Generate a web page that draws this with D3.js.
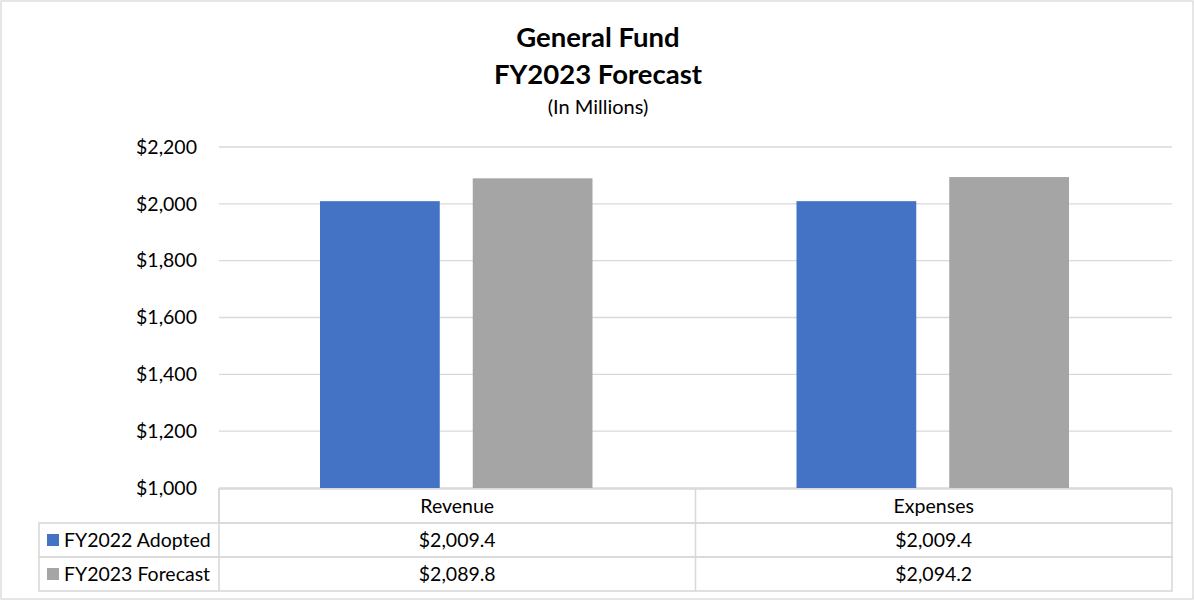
<!DOCTYPE html>
<html>
<head>
<meta charset="utf-8">
<script src="https://cdn.jsdelivr.net/npm/d3@7"></script>
<style>
  body { margin: 0; background: #fff; }
  svg { font-family: Lato, "Noto Sans", sans-serif; }
</style>
</head>
<body>
<div id="chart"></div>
<script>
var categories = ["Revenue", "Expenses"];
var seriesNames = ["FY2022 Adopted", "FY2023 Forecast"];
var adopted = [2009.4, 2009.4];
var forecast = [2089.8, 2094.2];
var yTicks = [1000, 1200, 1400, 1600, 1800, 2000, 2200];
var colors = ["#4472C4", "#A5A5A5"];

var W = 1194, H = 600;
var plot = { left: 219, right: 1172, top: 147, bottom: 488 };
var rowH = 34;
var fs = 19.5;

var svg = d3.select("#chart").append("svg")
    .attr("width", W)
    .attr("height", H);

// outer chart border
svg.append("rect")
    .attr("x", 1).attr("y", 1)
    .attr("width", W - 2).attr("height", H - 2)
    .attr("fill", "#fff")
    .attr("stroke", "#D9D9D9")
    .attr("stroke-width", 1.3);

// titles
svg.append("text").attr("x", 598).attr("y", 47)
    .attr("text-anchor", "middle").attr("font-size", 27.5).attr("font-weight", "bold")
    .text("General Fund");
svg.append("text").attr("x", 598).attr("y", 84)
    .attr("text-anchor", "middle").attr("font-size", 27.5).attr("font-weight", "bold")
    .text("FY2023 Forecast");
svg.append("text").attr("x", 598).attr("y", 114)
    .attr("text-anchor", "middle").attr("font-size", 20)
    .text("(In Millions)");

var y = d3.scaleLinear().domain([1000, 2200]).range([plot.bottom, plot.top]);
var x0 = d3.scaleBand().domain(categories).range([plot.left, plot.right]).paddingInner(0).paddingOuter(0);
var x1 = d3.scaleBand().domain(seriesNames).range([101, x0.bandwidth() - 103]).paddingInner(0.216);

// gridlines
svg.append("g")
    .selectAll("line")
    .data(yTicks)
    .enter().append("line")
    .attr("x1", plot.left).attr("x2", plot.right)
    .attr("y1", function (d) { return y(d); })
    .attr("y2", function (d) { return y(d); })
    .attr("stroke", "#D9D9D9")
    .attr("stroke-width", 1.3);

// y axis labels
var yAxis = svg.append("g")
    .attr("transform", "translate(" + plot.left + ",0)")
    .call(d3.axisLeft(y).tickValues(yTicks).tickSize(0).tickPadding(22)
        .tickFormat(function (d) { return "$" + d3.format(",")(d); }));
yAxis.select(".domain").remove();
yAxis.selectAll("text").attr("font-size", fs).attr("fill", "#000").attr("font-family", "Lato, sans-serif");

// bars
var series = [adopted, forecast];
var groups = svg.append("g")
    .selectAll("g")
    .data(categories)
    .enter().append("g")
    .attr("transform", function (d) { return "translate(" + x0(d) + ",0)"; });

groups.selectAll("rect")
    .data(function (d, i) {
        return seriesNames.map(function (s, j) { return { name: s, value: series[j][i], color: colors[j] }; });
    })
    .enter().append("rect")
    .attr("x", function (d) { return x1(d.name); })
    .attr("width", x1.bandwidth())
    .attr("y", function (d) { return y(d.value); })
    .attr("height", function (d) { return y(1000) - y(d.value); })
    .attr("fill", function (d) { return d.color; });

// data table
var table = svg.append("g").attr("stroke", "#D9D9D9").attr("stroke-width", 1.6).attr("fill", "none");
var tTop = plot.bottom + 1;
var legendLeft = 39;
// header row
table.append("rect").attr("x", plot.left).attr("y", tTop).attr("width", plot.right - plot.left).attr("height", rowH);
// series rows
seriesNames.forEach(function (s, j) {
    table.append("rect").attr("x", legendLeft).attr("y", tTop + rowH * (j + 1))
        .attr("width", plot.right - legendLeft).attr("height", rowH);
});
// column dividers
categories.forEach(function (c, i) {
    if (i > 0) {
        table.append("line").attr("x1", x0(c)).attr("x2", x0(c))
            .attr("y1", tTop).attr("y2", tTop + rowH * 3);
    }
});
table.append("line").attr("x1", plot.left).attr("x2", plot.left)
    .attr("y1", tTop).attr("y2", tTop + rowH * 3);

// header labels
svg.append("g").selectAll("text")
    .data(categories)
    .enter().append("text")
    .attr("x", function (d) { return x0(d) + x0.bandwidth() / 2; })
    .attr("y", tTop + rowH / 2 + 6.5)
    .attr("text-anchor", "middle").attr("font-size", fs)
    .text(function (d) { return d; });

// series rows: legend keys, names, values
seriesNames.forEach(function (s, j) {
    var cy = tTop + rowH * (j + 1) + rowH / 2;
    svg.append("rect").attr("x", 47).attr("y", cy - 6).attr("width", 12).attr("height", 12)
        .attr("fill", colors[j]);
    svg.append("text").attr("x", 64).attr("y", cy + 6.5).attr("font-size", fs).text(s);
    categories.forEach(function (c, i) {
        svg.append("text")
            .attr("x", x0(c) + x0.bandwidth() / 2)
            .attr("y", cy + 6.5)
            .attr("text-anchor", "middle").attr("font-size", fs)
            .text("$" + d3.format(",.1f")(series[j][i]));
    });
});
</script>
</body>
</html>
